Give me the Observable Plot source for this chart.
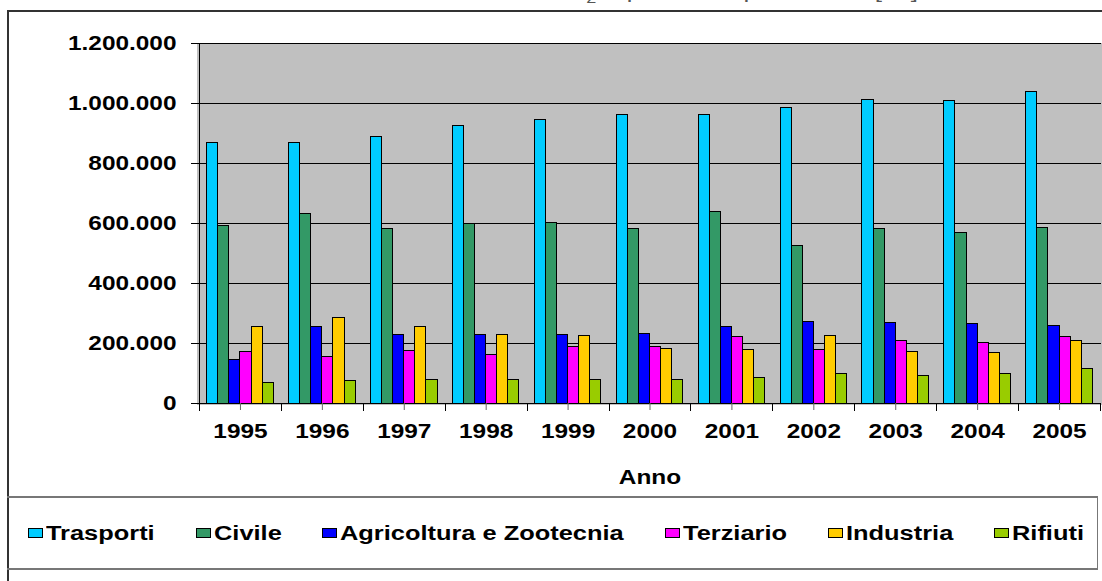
<!DOCTYPE html>
<html>
<head>
<meta charset="utf-8">
<script src="https://cdn.jsdelivr.net/npm/d3@7"></script>
<script src="https://cdn.jsdelivr.net/npm/@observablehq/plot@0.6"></script>
<style>
  html, body { margin: 0; padding: 0; background: #fff; overflow: hidden; }
  #page { position: relative; width: 1102px; height: 581px; overflow: hidden; font-family: "Liberation Sans", Arial, sans-serif; }
  #outer { position: absolute; left: 7px; top: 10px; width: 1200px; height: 700px; border-left: 2px solid #333; border-top: 2px solid #333; box-sizing: border-box; }
  #title { position: absolute; top: -19px; left: 8px; font-size: 20px; line-height: 20px; white-space: nowrap; color: #555; transform-origin: left top; }
  #chart { position: absolute; left: 0; top: 0; }
  #chart svg rect, #chart svg line { shape-rendering: crispEdges; }
  #legend { position: absolute; left: 7px; top: 496px; width: 1091px; height: 74px; box-sizing: border-box;
            border-top: 2px solid #777; border-bottom: 2px solid #777; border-right: 1px solid #777;
            display: flex; align-items: center; padding-left: 21px; gap: 41px; }
  .item { display: flex; align-items: center; gap: 3px; }
  .sw { width: 15px; height: 10px; border: 1px solid #000; box-sizing: border-box; }
  .lab { display: inline-block; white-space: nowrap; }
  .lab span { display: inline-block; transform-origin: left center; transform: scaleX(1.27); font-weight: bold; font-size: 20px; }
</style>
</head>
<body>
<div id="page">
  <div id="outer"></div>
  <div id="title">Grafico 3 – Andamento delle emissioni totali di CO<sub style="font-size:14px">2</sub> equivalente per settore [t/a]</div>
  <div id="chart"></div>
  <div id="legend"></div>
</div>
<script>
const years = ["1995","1996","1997","1998","1999","2000","2001","2002","2003","2004","2005"];
const sectors = ["Trasporti","Civile","Agricoltura e Zootecnia","Terziario","Industria","Rifiuti"];
const colors = ["#00CCFF","#339966","#0000FF","#FF00FF","#FFCC00","#99CC00"];
const trasporti  = [868000, 868000, 889000, 924000, 946000, 963000, 963000, 986000, 1012000, 1009000, 1039000];
const civile     = [593000, 633000, 581000, 598000, 602000, 581000, 638000, 524000, 581000, 568000, 586000];
const agricoltura= [146000, 256000, 229000, 229000, 229000, 233000, 256000, 273000, 269000, 264000, 260000];
const terziario  = [171000, 154000, 176000, 163000, 187000, 189000, 221000, 177000, 207000, 202000, 222000];
const industria  = [256000, 286000, 256000, 229000, 226000, 181000, 177000, 226000, 171000, 168000, 207000];
const rifiuti    = [70000, 74000, 80000, 80000, 80000, 80000, 86000, 97000, 93000, 98000, 114000];
const yTicks = [0, 200000, 400000, 600000, 800000, 1000000, 1200000];
const xLabel = "Anno";

const series = [trasporti, civile, agricoltura, terziario, industria, rifiuti];
const data = [];
years.forEach((yr, i) => sectors.forEach((s, j) => data.push({year: yr, sector: s, value: series[j][i]})));

const fmt = d3.formatLocale({decimal: ",", thousands: ".", grouping: [3], currency: ["", ""]}).format(",d");

const W = 1102, H = 497, mL = 199, mR = 2, mT = 43, mB = 94;
const pOuter = 0.69;
const step = (W - mL - mR) / years.length / (sectors.length + 2 * pOuter);
const edge = pOuter * step + step / 2;

const chart = Plot.plot({
  width: W, height: H,
  marginLeft: mL, marginRight: mR, marginTop: mT, marginBottom: mB,
  style: {fontFamily: "'Liberation Sans', Arial, sans-serif", background: "transparent", overflow: "visible"},
  fx: {domain: years, paddingInner: 0, paddingOuter: 0, round: false},
  x: {domain: sectors, paddingInner: 0, paddingOuter: pOuter, round: false, axis: null},
  y: {domain: [0, 1200000], axis: null},
  color: {domain: sectors, range: colors},
  marks: [
    Plot.frame({fill: "#C0C0C0", stroke: "#C0C0C0", strokeWidth: 2, insetLeft: -1.5, insetRight: -1.5}),
    Plot.ruleY(yTicks, {stroke: "#000", strokeWidth: 1, insetLeft: -1, insetRight: -1}),
    Plot.barY(data, {fx: "year", x: "sector", y: "value", fill: "sector", stroke: "#000", strokeWidth: 1}),
    // group boundary ticks (left edge of each year group)
    Plot.ruleX(years, {fx: d => d, x: () => sectors[0], y1: 0, y2: 0, insetBottom: -8, dx: -edge, stroke: "#000"}),
    // right edge tick of last group
    Plot.ruleX([years[years.length - 1]], {fx: d => d, x: () => sectors[sectors.length - 1], y1: 0, y2: 0, insetBottom: -8, dx: edge, stroke: "#000"}),
    // left axis line
    Plot.ruleX([years[0]], {fx: d => d, x: () => sectors[0], y1: 0, y2: 1200000, dx: -edge, stroke: "#000"}),
    Plot.axisY({ticks: yTicks, tickFormat: fmt, tickSize: 8, tickPadding: 15, fontSize: 20, fontWeight: "bold", label: null, stroke: "#000"}),
    Plot.axisFx({anchor: "bottom", tickSize: 7, tickPadding: 13, fontSize: 20, fontWeight: "bold", stroke: "#666",
                 label: xLabel, labelAnchor: "center", labelOffset: 80})
  ]
});
document.getElementById("chart").appendChild(chart);

// horizontal stretch of text to match the reference's wide lettering
chart.querySelectorAll("text").forEach(t => {
  const len = t.getComputedTextLength();
  if (len > 0) {
    t.setAttribute("textLength", len * 1.22);
    t.setAttribute("lengthAdjust", "spacingAndGlyphs");
  }
});

// title: stretched to span like the reference (ends near x = 918)
const title = document.getElementById("title");
const tw = title.getBoundingClientRect().width;
title.style.transform = `scaleX(${910 / tw})`;

// legend
const leg = document.getElementById("legend");
sectors.forEach((s, i) => {
  const item = document.createElement("div");
  item.className = "item";
  const sw = document.createElement("div");
  sw.className = "sw";
  sw.style.background = colors[i];
  const lab = document.createElement("div");
  lab.className = "lab";
  const sp = document.createElement("span");
  sp.textContent = s;
  lab.appendChild(sp);
  item.appendChild(sw);
  item.appendChild(lab);
  leg.appendChild(item);
  lab.style.width = sp.getBoundingClientRect().width + "px";
});
</script>
</body>
</html>
